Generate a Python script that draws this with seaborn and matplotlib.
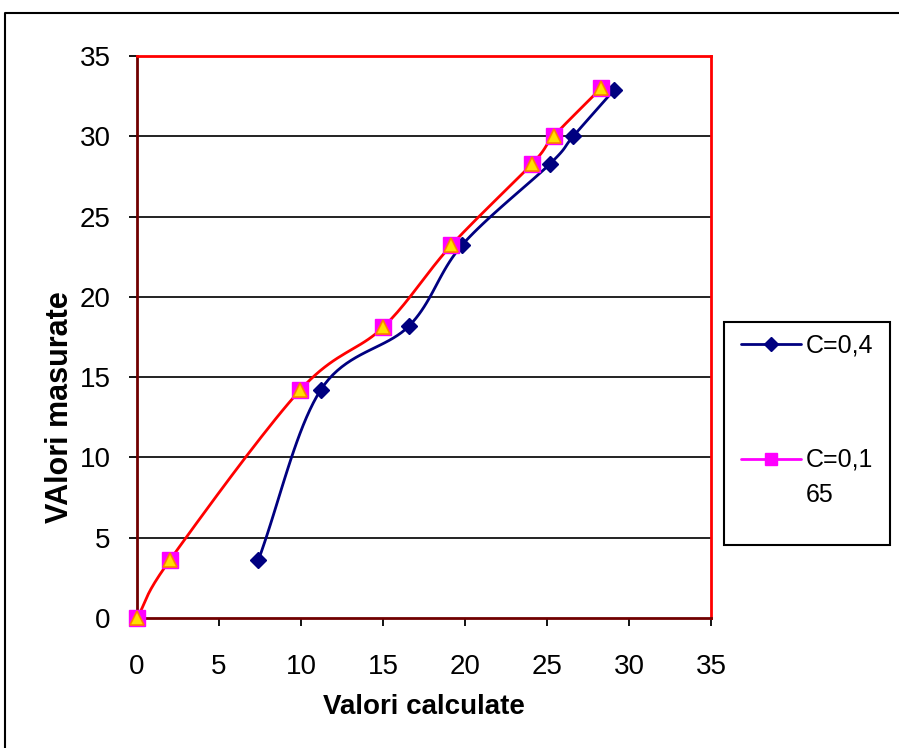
import numpy as np
import pandas as pd
import matplotlib
matplotlib.use("Agg")
import matplotlib.pyplot as plt
from matplotlib.lines import Line2D
from matplotlib.legend_handler import HandlerLine2D
import seaborn as sns

# ---- data ----
calc_c04 = [7.4, 11.2, 16.6, 19.8, 25.2, 26.6, 29.1]
meas_c04 = [3.6, 14.2, 18.2, 23.2, 28.3, 30.0, 32.9]
calc_c0165 = [0.0, 2.0, 9.95, 15.0, 19.15, 24.1, 25.4, 28.3]
meas_c0165 = [0.0, 3.6, 14.2, 18.1, 23.2, 28.3, 30.0, 33.0]
labels = ["C=0,4", "C=0,1\n65"]
ticks = [0, 5, 10, 15, 20, 25, 30, 35]

sns.set_theme(style="white")
plt.rcParams['font.family'] = ['Liberation Sans', 'DejaVu Sans']
plt.rcParams['text.color'] = 'black'
plt.rcParams['axes.labelcolor'] = 'black'
plt.rcParams['xtick.color'] = 'black'
plt.rcParams['ytick.color'] = 'black'


def smooth(x, y, n=20):
    """Catmull-Rom rendering of a smoothed line through the given points."""
    p = np.column_stack([x, y]).astype(float)
    p = np.vstack([p[0] - (p[1] - p[0]), p, p[-1] + (p[-1] - p[-2])])
    out = []
    t = np.linspace(0, 1, n, endpoint=False)[:, None]
    for i in range(1, len(p) - 2):
        p0, p1, p2, p3 = p[i - 1], p[i], p[i + 1], p[i + 2]
        seg = 0.5 * ((2 * p1) + (-p0 + p2) * t + (2 * p0 - 5 * p1 + 4 * p2 - p3) * t ** 2
                     + (-p0 + 3 * p1 - 3 * p2 + p3) * t ** 3)
        out.append(seg)
    out.append(p[-2][None, :])
    c = np.vstack(out)
    return c[:, 0], c[:, 1]


class OffsetHandler(HandlerLine2D):
    def __init__(self, dy, **kw):
        super().__init__(**kw)
        self.dy = dy

    def create_artists(self, legend, orig_handle, xdescent, ydescent, width, height,
                       fontsize, trans):
        arts = super().create_artists(legend, orig_handle, xdescent, ydescent, width,
                                      height, fontsize, trans)
        for a in arts:
            a.set_ydata(np.asarray(a.get_ydata(), dtype=float) + self.dy * fontsize)
        return arts


fig = plt.figure(figsize=(8.99, 7.48), dpi=100)
ax = fig.add_axes([137 / 899, 1 - 618 / 748, (711 - 137) / 899, (618 - 56) / 748])

# outer frame (top and left only)
fig.add_artist(Line2D([5 / 899, 5 / 899, 1.0], [0.0, 1 - 13 / 748, 1 - 13 / 748],
                      transform=fig.transFigure, color="black", lw=1.5))

# grid
for v in ticks[1:-1]:
    ax.axhline(v, color="#111111", lw=1.3, zorder=1)

blue = "#000080"
sx, sy = smooth(calc_c04, meas_c04)
sns.lineplot(x=sx, y=sy, sort=False, estimator=None, ax=ax, color=blue, lw=2.0, zorder=3)
ax.plot(calc_c04, meas_c04, linestyle="none", marker="D", ms=8.5, color=blue, mec=blue, zorder=4)

sx2, sy2 = smooth(calc_c0165, meas_c0165)
sns.lineplot(x=sx2, y=sy2, sort=False, estimator=None, ax=ax, color="#FF0000", lw=2.0, zorder=5)
ax.plot(calc_c0165, meas_c0165, linestyle="none", marker="s", ms=12, color="#FF00FF",
        mec="#FF00FF", zorder=6, clip_on=False)
ax.plot(calc_c0165, meas_c0165, linestyle="none", marker="^", ms=10.5, color="#FFE000",
        mec="#FF8000", mew=1.2, zorder=7, clip_on=False)

ax.set_xlim(0, 35)
ax.set_ylim(0, 35)
ax.set_xticks(ticks)
ax.set_yticks(ticks)
ax.tick_params(axis="both", which="both", direction="out", length=6, width=1.3,
               color="black", labelcolor="black", labelsize=20, bottom=True, left=True)
ax.tick_params(axis="y", pad=13)
ax.tick_params(axis="x", pad=20)

for s in ["top", "right"]:
    ax.spines[s].set_color("#FF0000")
    ax.spines[s].set_linewidth(2)
for s in ["left", "bottom"]:
    ax.spines[s].set_color("#700000")
    ax.spines[s].set_linewidth(2)

ax.set_xlabel("Valori calculate", fontsize=20, fontweight="bold", labelpad=10, color="black")
ax.set_ylabel("VAlori masurate", fontsize=22, fontweight="bold", labelpad=3, color="black",
              y=(618 - 407) / (618 - 56))

# legend box
fig.add_artist(plt.Rectangle((724 / 899, 1 - 545 / 748), (890 - 724) / 899, (545 - 322) / 748,
                             transform=fig.transFigure, fill=False, edgecolor="black", lw=1.5))
handles = [Line2D([], [], color=blue, lw=2, marker="D", ms=7),
           Line2D([], [], color="#FF00FF", lw=2, marker="s", ms=9)]
leg = fig.legend(handles, labels, loc="upper left", bbox_to_anchor=(731 / 899, 1 - 324 / 748),
                 frameon=False, fontsize=18, handlelength=2.4, handletextpad=0.2,
                 labelspacing=3.58, borderaxespad=0,
                 handler_map={handles[1]: OffsetHandler(0.76)})
for t in leg.get_texts():
    t.set_color("black")
    t.set_linespacing(1.63)

fig.savefig("out.png", dpi=100)
